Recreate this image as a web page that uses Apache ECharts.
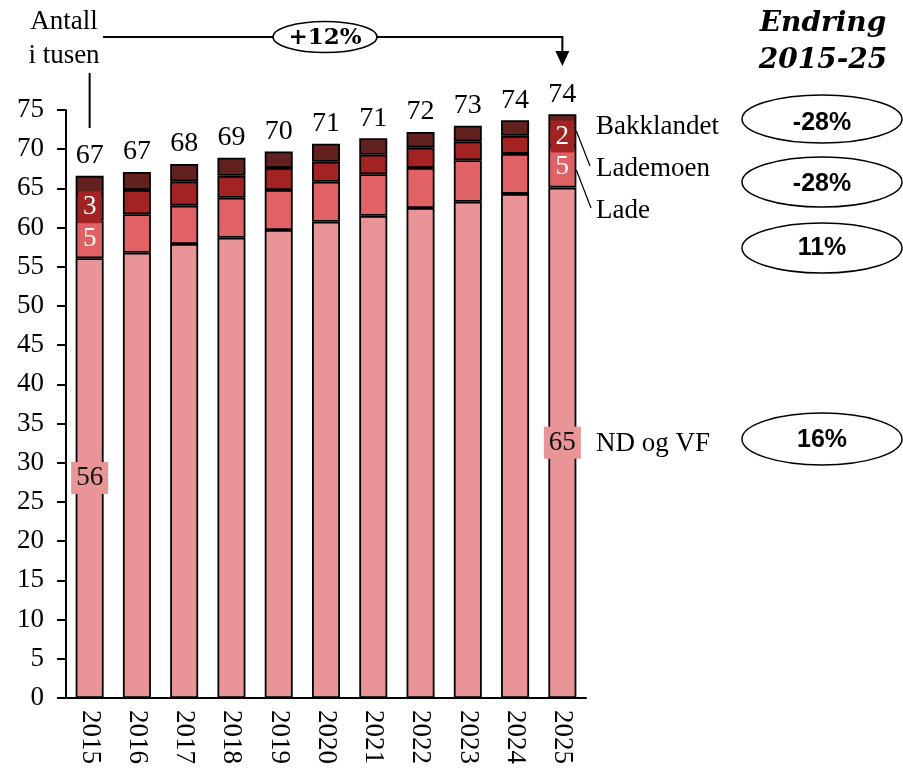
<!DOCTYPE html>
<html><head><meta charset="utf-8">
<script src="https://cdn.jsdelivr.net/npm/echarts/dist/echarts.min.js"></script>
<style>html,body{margin:0;padding:0;background:#fff}#c{width:903px;height:782px}</style>
</head><body><div id="c"></div>
<script>
// ---- data (thousands) ----
const years = ['2015','2016','2017','2018','2019','2020','2021','2022','2023','2024','2025'];
const ndOgVf     = [56.1, 56.8, 57.9, 58.7, 59.7, 60.75, 61.5, 62.5, 63.3, 64.3, 65.1];
const lade       = [4.8, 4.9, 4.9, 5.1, 5.1, 5.1, 5.3, 5.1, 5.3, 5.1, 5.3];
const lademoen   = [3.4, 3.1, 3.1, 2.8, 2.8, 2.55, 2.5, 2.6, 2.4, 2.3, 2.45];
const bakklandet = [2.3, 2.3, 2.2, 2.3, 2.1, 2.3, 2.1, 2.0, 2.0, 2.0, 1.6];
const changeLabels = ['-28%', '-28%', '11%', '16%'];   // Bakklandet, Lademoen, Lade, ND og VF
const totalChange = '+12%';
const yTicks = {min: 0, max: 75, interval: 5};

const SERIF = '"Liberation Serif", serif';
const colors = {nd:'#E99598', lade:'#E06264', lademoen:'#A32222', bakk:'#62211F'};
const n = years.length;
const totals = years.map((_, i) => ndOgVf[i] + lade[i] + lademoen[i] + bakklandet[i]);

function barSeries(name, arr, color, labelColor, showLabels) {
  return {
    name, type: 'bar', stack: 'a', barWidth: 28,
    itemStyle: {color, borderColor: '#000', borderWidth: 1.8},
    data: arr.map((v, i) => ({
      value: v,
      label: {show: showLabels && (i === 0 || i === n - 1)}
    })),
    label: {
      position: 'inside',
      formatter: p => String(Math.round(p.value)),
      fontFamily: SERIF, fontSize: 27, color: labelColor,
      backgroundColor: color, padding: [2, 5], lineHeight: 28
    },
    emphasis: {disabled: true}
  };
}

const chart = echarts.init(document.getElementById('c'));
chart.setOption({
  animation: false,
  backgroundColor: '#fff',
  grid: {left: 66, right: 317, top: 110, bottom: 84, containLabel: false},
  xAxis: {
    type: 'category', data: years,
    axisLine: {lineStyle: {color: '#000', width: 2}},
    axisTick: {show: false},
    axisLabel: {rotate: -90, fontFamily: SERIF, fontSize: 27, color: '#000', margin: 12}
  },
  yAxis: {
    type: 'value', min: yTicks.min, max: yTicks.max, interval: yTicks.interval,
    axisLine: {show: true, lineStyle: {color: '#000', width: 2}},
    axisTick: {show: true, length: 9, lineStyle: {color: '#000', width: 2}},
    splitLine: {show: false},
    axisLabel: {fontFamily: SERIF, fontSize: 27, color: '#000', margin: 22}
  },
  series: [
    barSeries('ND og VF', ndOgVf, colors.nd, '#111', true),
    barSeries('Lade', lade, colors.lade, '#fff', true),
    barSeries('Lademoen', lademoen, colors.lademoen, '#fff', true),
    barSeries('Bakklandet', bakklandet, colors.bakk, '#fff', false),
    {
      type: 'scatter', silent: true, symbol: 'rect', symbolSize: 0,
      itemStyle: {color: '#000'},
      data: totals.map((t, i) => [i, t]),
      label: {show: true, position: 'top', distance: 6,
        formatter: p => String(Math.round(p.value[1])),
        fontFamily: SERIF, fontSize: 28, color: '#000', opacity: 1},
      emphasis: {disabled: true}
    }
  ]
});

// ---- annotations anchored to the axes ----
const p0 = chart.convertToPixel({gridIndex: 0}, [0, 0]);
const pN = chart.convertToPixel({gridIndex: 0}, [n - 1, 0]);
const x0 = p0[0], xN = pN[0];
const half = 14;

function txt(text, x, y, font, align, extra) {
  return Object.assign({
    type: 'text', z: 20,
    style: {text, x, y, font, fill: '#000', align: align || 'center', verticalAlign: 'middle',
            textAlign: align || 'center', textVerticalAlign: 'middle'}
  }, extra || {});
}
function ell(cx, cy, rx, ry) {
  return {type: 'ellipse', z: 15, shape: {cx, cy, rx, ry},
          style: {fill: '#fff', stroke: '#000', lineWidth: 1.5}};
}
const sideFont = '27px "Liberation Serif"';
const pctFont = 'bold 25px "Liberation Sans"';
const ellCx = 822, ellRx = 80;

chart.setOption({
  graphic: [
    txt('Antall', 64, 22, '27px "Liberation Serif"'),
    txt('i tusen', 64, 56, '27px "Liberation Serif"'),
    {type: 'line', z: 10, shape: {x1: x0, y1: 73, x2: x0, y2: 128}, style: {stroke: '#000', lineWidth: 2}},
    {type: 'polyline', z: 10, shape: {points: [[103, 37], [xN, 37], [xN, 54]]}, style: {stroke: '#000', lineWidth: 2, fill: null}},
    {type: 'polygon', z: 10, shape: {points: [[xN - 7, 51], [xN + 7, 51], [xN, 66]]}, style: {fill: '#000'}},
    ell(325, 37, 52, 15.5),
    txt(totalChange, 325, 38, 'bold 23px "DejaVu Serif"'),
    txt('Endring', 823, 24, 'italic bold 28px "DejaVu Serif"'),
    txt('2015-25', 823, 61, 'italic bold 28px "DejaVu Serif"'),
    ell(ellCx, 119, ellRx, 24), txt(changeLabels[0], ellCx, 123, pctFont),
    ell(ellCx, 182, ellRx, 25), txt(changeLabels[1], ellCx, 184, pctFont),
    ell(ellCx, 248, ellRx, 25), txt(changeLabels[2], ellCx, 248, pctFont),
    ell(ellCx, 439, ellRx, 26), txt(changeLabels[3], ellCx, 440, pctFont),
    txt('Bakklandet', 596, 127, sideFont, 'left'),
    txt('Lademoen', 596, 169, sideFont, 'left'),
    txt('Lade', 596, 211, sideFont, 'left'),
    txt('ND og VF', 596, 444, sideFont, 'left'),
    {type: 'line', z: 10, shape: {x1: xN + half, y1: 131, x2: 590, y2: 166}, style: {stroke: '#000', lineWidth: 1.2}},
    {type: 'line', z: 10, shape: {x1: xN + half, y1: 170, x2: 591, y2: 208}, style: {stroke: '#000', lineWidth: 1.2}}
  ]
});
</script>
</body></html>
